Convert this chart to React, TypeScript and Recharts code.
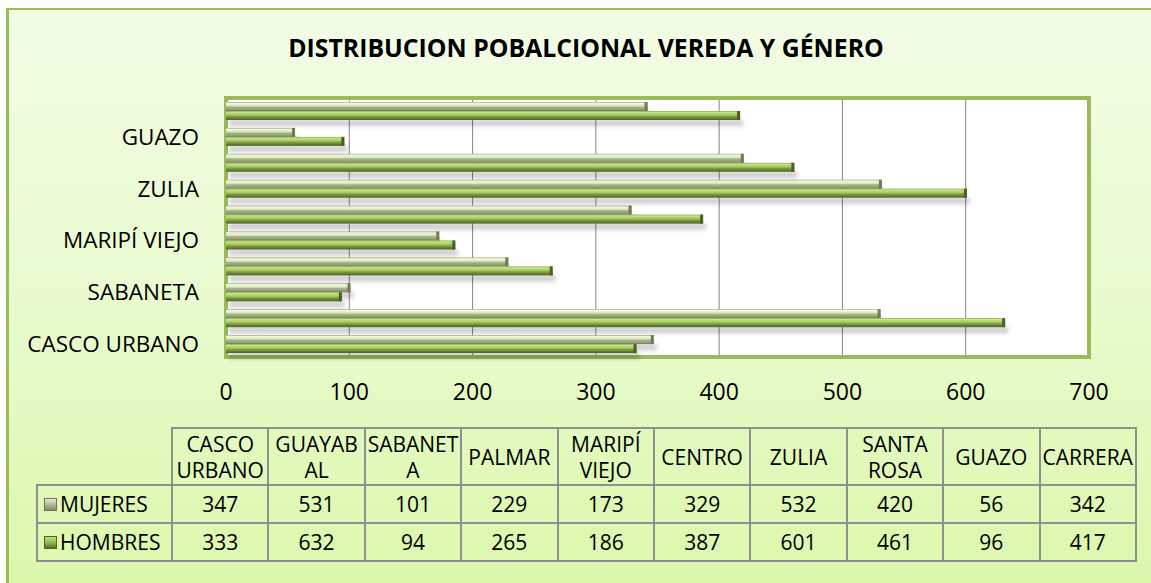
import React from "react";
import {
  BarChart,
  Bar,
  XAxis,
  YAxis,
  CartesianGrid,
  ReferenceArea,
} from "recharts";

const title = "DISTRIBUCION POBALCIONAL VEREDA Y GÉNERO";
const categories = [
  "CASCO URBANO",
  "GUAYABAL",
  "SABANETA",
  "PALMAR",
  "MARIPÍ VIEJO",
  "CENTRO",
  "ZULIA",
  "SANTA ROSA",
  "GUAZO",
  "CARRERA",
];
const tableHeaders = [
  "CASCO\nURBANO",
  "GUAYAB\nAL",
  "SABANET\nA",
  "PALMAR",
  "MARIPÍ\nVIEJO",
  "CENTRO",
  "ZULIA",
  "SANTA\nROSA",
  "GUAZO",
  "CARRERA",
];
const mujeres = [347, 531, 101, 229, 173, 329, 532, 420, 56, 342];
const hombres = [333, 632, 94, 265, 186, 387, 601, 461, 96, 417];
const xTicks = [0, 100, 200, 300, 400, 500, 600, 700];
const seriesNames = ["MUJERES", "HOMBRES"];

const data = categories.map((name, i) => ({
  name,
  MUJERES: mujeres[i],
  HOMBRES: hombres[i],
}));

const FONT = "'Open Sans', 'Liberation Sans', sans-serif";

const Bar3D = (props: any) => {
  const { x, y, width, height, gradId, capColor } = props;
  if (!width || width <= 0) return null;
  return (
    <g>
      <rect
        x={x + 3}
        y={y + height}
        width={width}
        height={6}
        fill="#000"
        opacity={0.2}
        filter="url(#barShadow)"
      />
      <rect x={x} y={y} width={width} height={height} fill={`url(#${gradId})`} />
      <rect x={x + width - 3} y={y} width={3} height={height} fill={capColor} />
    </g>
  );
};

const cellBorder = "2px solid #8f8f8f";

export default function App() {
  return (
    <div
      style={{
        position: "fixed",
        left: 6,
        top: 8,
        width: 1145,
        height: 575,
        boxSizing: "border-box",
        borderTop: "2px solid #9bbb59",
        borderLeft: "3px solid #9bbb59",
        background: "linear-gradient(to bottom, #f2fde6 0%, #e8fbcc 55%, #dbf7ab 100%)",
        fontFamily: FONT,
        color: "#000",
      }}
    >
      <div
        style={{
          position: "absolute",
          left: 0,
          top: 22,
          width: 1154,
          textAlign: "center",
          fontWeight: 700,
          fontSize: 24.8,
          lineHeight: "30px",
        }}
      >
        {title}
      </div>
      <div style={{ position: "absolute", left: 0, top: 0 }}>
        <BarChart
          width={1130}
          height={400}
          data={data}
          layout="vertical"
          margin={{ top: 88, right: 50, left: 0, bottom: 0 }}
          barSize={9}
          barGap={0}
        >
          <defs>
            <linearGradient id="gM" x1="0" y1="0" x2="0" y2="1">
              <stop offset="0%" stopColor="#9aa683" />
              <stop offset="14%" stopColor="#f2f9e2" />
              <stop offset="42%" stopColor="#d9e9b8" />
              <stop offset="56%" stopColor="#a7b58b" />
              <stop offset="85%" stopColor="#8f9c74" />
              <stop offset="100%" stopColor="#6c7656" />
            </linearGradient>
            <linearGradient id="gH" x1="0" y1="0" x2="0" y2="1">
              <stop offset="0%" stopColor="#86a44b" />
              <stop offset="14%" stopColor="#c6e583" />
              <stop offset="45%" stopColor="#a3c75e" />
              <stop offset="62%" stopColor="#7f9c44" />
              <stop offset="100%" stopColor="#4d6324" />
            </linearGradient>
            <filter id="barShadow" x="-5%" y="-100%" width="110%" height="300%">
              <feGaussianBlur stdDeviation="2" />
            </filter>
          </defs>
          <CartesianGrid
            horizontal={false}
            vertical={true}
            stroke="#858585"
            strokeWidth={1}
            fill="#ffffff"
            fillOpacity={1}
          />
          <XAxis
            type="number"
            domain={[0, 700]}
            ticks={xTicks}
            interval={0}
            axisLine={false}
            tickLine={false}
            tickSize={0}
            tickMargin={27}
            height={53}
            tick={{ fill: "#000", fontSize: 23, fontFamily: FONT }}
          />
          <YAxis
            type="category"
            dataKey="name"
            reversed
            interval={1}
            width={217}
            axisLine={false}
            tickLine={false}
            tickSize={0}
            tickMargin={27}
            tick={{ fill: "#000", fontSize: 22.5, fontFamily: FONT }}
          />
          <Bar
            dataKey="MUJERES"
            name={seriesNames[0]}
            isAnimationActive={false}
            shape={(p: any) => <Bar3D {...p} gradId="gM" capColor="#6f7a5a" />}
          />
          <Bar
            dataKey="HOMBRES"
            name={seriesNames[1]}
            isAnimationActive={false}
            shape={(p: any) => <Bar3D {...p} gradId="gH" capColor="#4a5f22" />}
          />
          <ReferenceArea
            x1={0}
            x2={700}
            ifOverflow="visible"
            fill="none"
            stroke="#9bbb59"
            strokeWidth={4}
          />
        </BarChart>
      </div>
      <table
        style={{
          position: "absolute",
          left: 27,
          top: 417,
          borderCollapse: "collapse",
          tableLayout: "fixed",
          width: 1099,
          fontFamily: FONT,
          fontSize: 21,
          color: "#000",
        }}
      >
        <colgroup>
          <col style={{ width: 135 }} />
          {categories.map((c) => (
            <col key={c} style={{ width: 96.4 }} />
          ))}
        </colgroup>
        <tbody>
          <tr style={{ height: 57 }}>
            <td style={{ border: "none", padding: 0 }} />
            {tableHeaders.map((h) => (
              <td
                key={h}
                style={{
                  border: cellBorder,
                  padding: 0,
                  textAlign: "center",
                  verticalAlign: "middle",
                  whiteSpace: "pre-line",
                  lineHeight: "26px",
                  overflow: "hidden",
                }}
              >
                {h}
              </td>
            ))}
          </tr>
          {[mujeres, hombres].map((vals, r) => (
            <tr key={r} style={{ height: 38 }}>
              <td
                style={{
                  border: cellBorder,
                  padding: "0 0 0 6px",
                  whiteSpace: "nowrap",
                  lineHeight: "26px",
                }}
              >
                <span
                  style={{
                    display: "inline-block",
                    width: 11,
                    height: 11,
                    marginRight: 3,
                    verticalAlign: "middle",
                    position: "relative",
                    top: -2,
                    border: r === 0 ? "1px solid #6c7656" : "1px solid #4d6324",
                    background:
                      r === 0
                        ? "linear-gradient(#e6ead8, #a9b08f 60%, #858c6c)"
                        : "linear-gradient(#c2e27e, #8aab46 60%, #556d28)",
                  }}
                />
                {seriesNames[r]}
              </td>
              {vals.map((v, i) => (
                <td
                  key={i}
                  style={{
                    border: cellBorder,
                    padding: 0,
                    textAlign: "center",
                    verticalAlign: "middle",
                    lineHeight: "26px",
                  }}
                >
                  {v}
                </td>
              ))}
            </tr>
          ))}
        </tbody>
      </table>
    </div>
  );
}
